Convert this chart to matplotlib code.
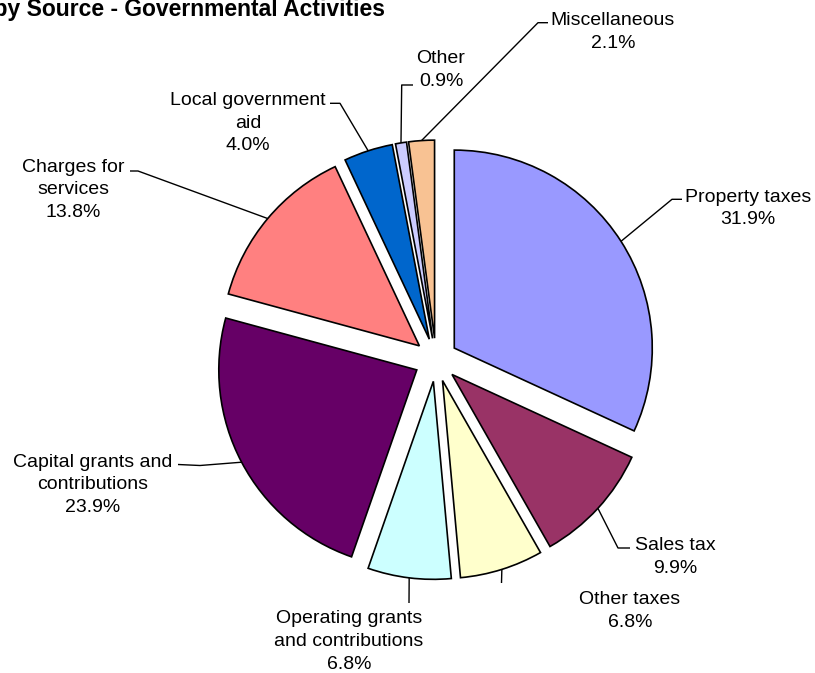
import numpy as np
import matplotlib
matplotlib.use('Agg')
import matplotlib.pyplot as plt

# -----------------------
# Data
# -----------------------
categories = ['Property taxes', 'Sales tax', 'Other taxes',
              'Operating grants and contributions',
              'Capital grants and contributions',
              'Charges for services', 'Local government aid',
              'Other', 'Miscellaneous']
shares = [31.9, 9.9, 6.8, 6.8, 23.9, 13.8, 4.0, 0.9, 2.1]

# label text as wrapped in the chart
label_text = ['Property taxes', 'Sales tax', 'Other taxes',
              'Operating grants\nand contributions',
              'Capital grants and\ncontributions',
              'Charges for\nservices', 'Local government\naid',
              'Other', 'Miscellaneous']

colors = ['#9999FF', '#993366', '#FFFFCC', '#CCFFFF', '#660066',
          '#FF8080', '#0066CC', '#CCCCFF', '#F8C293']

title = 'Revenues by Source - Governmental Activities'

# -----------------------
# Layout (pixel coordinates, y down)
# -----------------------
W, H = 815, 673
center = (436, 359.8)
radius = 198
explode_dist = 21.7   # pie() takes explode in data units

# label anchor: centre x, baseline of first line
label_pos = [(748, 201.7), (675, 550), (630, 604), (349, 623.3),
             (92.5, 466.7), (73, 171.7), (248, 105), (441, 63.3),
             (613, 25)]
# leader points after the wedge edge point
leader_pts = [[(672, 199.3), (682, 199.3)],
              [(618, 548), (630, 548)],
              [(501.5, 583)],
              [(409, 603)],
              [(200, 465.5), (178, 464.5)],
              [(138, 171), (130, 171)],
              [(340, 103.3), (330, 103.3)],
              [(401.7, 85), (413, 85)],
              [(538, 22.7), (548, 22.7)]]

line_step = 22.7
font_size = 14

plt.rcParams['font.family'] = ['Liberation Sans', 'DejaVu Sans']

fig = plt.figure(figsize=(W / 100, H / 100), dpi=100)
ax = fig.add_axes([0, 0, 1, 1])

# y axis is flipped, so counterclock in data runs clockwise on screen
wedges, _ = ax.pie(shares, colors=colors, center=center, radius=radius,
                   explode=[explode_dist] * len(shares),
                   startangle=-90, counterclock=True,
                   wedgeprops={'edgecolor': 'black', 'linewidth': 1.2})

ax.set_xlim(0, W)
ax.set_ylim(H, 0)
ax.set_aspect('equal')
ax.axis('off')

# -----------------------
# Labels with leader lines
# -----------------------
for w, txt, val, (lx, ly), pts in zip(wedges, label_text, shares,
                                      label_pos, leader_pts):
    mid = np.deg2rad((w.theta1 + w.theta2) / 2)
    cx, cy = w.center
    sx = cx + w.r * np.cos(mid)
    sy = cy + w.r * np.sin(mid)
    xs = [sx] + [p[0] for p in pts]
    ys = [sy] + [p[1] for p in pts]
    ax.plot(xs, ys, color='black', linewidth=1.0, solid_capstyle='butt')

    lines = txt.split('\n') + [f'{val:.1f}%']
    for i, line in enumerate(lines):
        ax.text(lx, ly + i * line_step, line, ha='center', va='baseline',
                fontsize=font_size, color='black')

# title runs off the left edge in the original
ax.text(385, 16, title, ha='right', va='baseline',
        fontsize=16.5, fontweight='bold', color='black')

fig.savefig('out.png', dpi=100)
